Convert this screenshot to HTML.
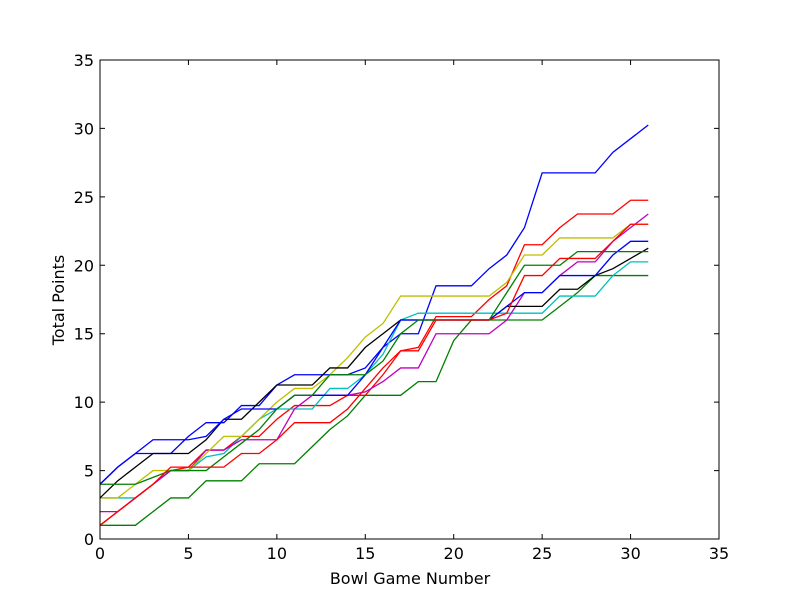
<!DOCTYPE html>
<html><head><meta charset="utf-8"><style>
body{margin:0;background:#fff}
svg{display:block;font-family:"DejaVu Sans","Liberation Sans",sans-serif}
</style></head><body>
<svg id="chart" width="800" height="600" viewBox="0 0 800 600">
<rect width="800" height="600" fill="#fff"/>
<g id="lines"></g>
<rect x="100" y="60" width="619" height="479" fill="none" stroke="#000" stroke-width="1"/>
<g id="ticks"></g>
<text x="410" y="584" font-size="16" text-anchor="middle">Bowl Game Number</text>
<text x="64" y="300" font-size="16" text-anchor="middle" transform="rotate(-90 64 300)">Total Points</text>
</svg>
<script>
const xTicks=[0,5,10,15,20,25,30,35];
const yTicks=[0,5,10,15,20,25,30,35];
const colors=['#0000ff','#008000','#ff0000','#00bfbf','#bf00bf','#bfbf00','#000000','#0000ff','#008000','#ff0000'];
const blueA=[4,5.25,6.25,6.25,6.25,7.5,8.5,8.5,9.75,9.75,11.25,12,12,12,12,12.5,14,15,15,18.5,18.5,18.5,19.75,20.75,22.75,26.75,26.75,26.75,26.75,28.25,29.25,30.25];
const greenA=[1,1,1,2,3,3,4.25,4.25,4.25,5.5,5.5,5.5,6.75,8,9,10.5,10.5,10.5,11.5,11.5,14.5,16,16,16,16,16,17,18,19.25,19.25,19.25,19.25];
const redA=[1,2,3,4,5,5.25,6.5,6.5,7.5,7.5,8.75,9.75,9.75,9.75,10.5,10.5,12,13.75,14,16.25,16.25,16.25,17.5,18.5,21.5,21.5,22.75,23.75,23.75,23.75,24.75,24.75];
const cyanA=[3,3,3,4,5,5,6,6.25,7.5,8.75,9.5,9.5,9.5,11,11,12,13.5,16,16.5,16.5,16.5,16.5,16.5,16.5,16.5,16.5,17.75,17.75,17.75,19.25,20.25,20.25];
const magentaA=[2,2,3,4,5,5,6.5,6.5,7.25,7.25,7.25,9.5,10.5,10.5,10.5,10.75,11.5,12.5,12.5,15,15,15,15,16,18,18,19.25,20.25,20.25,21.75,22.75,23.75];
const yellowA=[3,3,4,5,5,5,6.25,7.5,7.5,8.75,10,11,11,12,13.25,14.75,15.75,17.75,17.75,17.75,17.75,17.75,17.75,18.75,20.75,20.75,22,22,22,22,23,23];
const blackA=[3,4.25,5.25,6.25,6.25,6.25,7.25,8.75,8.75,10,11.25,11.25,11.25,12.5,12.5,14,15,16,16,16,16,16,16,17,17,17,18.25,18.25,19.25,19.75,20.5,21.25];
const blueB=[4,5.25,6.25,7.25,7.25,7.25,7.5,8.75,9.5,9.5,9.5,10.5,10.5,10.5,10.5,12,14,16,16,16,16,16,16,17,18,18,19.25,19.25,19.25,20.75,21.75,21.75];
const greenB=[4,4,4,4.5,5,5,5,6,7,8,9.5,10.5,10.5,12,12,12,13,15,16,16,16,16,16,18,20,20,20,21,21,21,21,21];
const redB=[1,2,3,4,5.25,5.25,5.25,5.25,6.25,6.25,7.25,8.5,8.5,8.5,9.5,11,12.5,13.75,13.75,16,16,16,16,16.5,19.25,19.25,20.5,20.5,20.5,21.75,23,23];
const series=[blueA,greenA,redA,cyanA,magentaA,yellowA,blackA,blueB,greenB,redB];
const names=['series-1-blue','series-2-green','series-3-red','series-4-cyan','series-5-magenta','series-6-yellow','series-7-black','series-8-blue','series-9-green','series-10-red'];
const X0=100,X1=719,Y0=539,Y1=60,XMAX=35,YMAX=35;
const sx=v=>X0+v/XMAX*(X1-X0);
const sy=v=>Y0-v/YMAX*(Y0-Y1);
const NS='http://www.w3.org/2000/svg';
const lines=document.getElementById('lines');
series.forEach((s,i)=>{
  const p=document.createElementNS(NS,'polyline');
  
  
  p.setAttribute('points',s.map((v,j)=>sx(j)+','+sy(v)).join(' '));
  p.setAttribute('fill','none');p.setAttribute('stroke',colors[i]);p.setAttribute('stroke-width','1.3');
  lines.appendChild(p);
});
const tk=document.getElementById('ticks');
xTicks.forEach(t=>{
  const x=sx(t);
  const l=document.createElementNS(NS,'path');
  
  
  l.setAttribute('d',`M${x},${Y0}v-5M${x},${Y1}v5`);l.setAttribute('stroke','#000');
  tk.appendChild(l);
  const tx=document.createElementNS(NS,'text');
  
  
  tx.setAttribute('x',x);tx.setAttribute('y',Y0+20);tx.setAttribute('font-size','16');tx.setAttribute('text-anchor','middle');
  tx.textContent=t;tk.appendChild(tx);
});
yTicks.forEach(t=>{
  const y=sy(t);
  const l=document.createElementNS(NS,'path');
  
  
  l.setAttribute('d',`M${X0},${y}h5M${X1},${y}h-5`);l.setAttribute('stroke','#000');
  tk.appendChild(l);
  const tx=document.createElementNS(NS,'text');
  
  
  tx.setAttribute('x',X0-6);tx.setAttribute('y',y+6);tx.setAttribute('font-size','16');tx.setAttribute('text-anchor','end');
  tx.textContent=t;tk.appendChild(tx);
});
</script>
</body></html>
